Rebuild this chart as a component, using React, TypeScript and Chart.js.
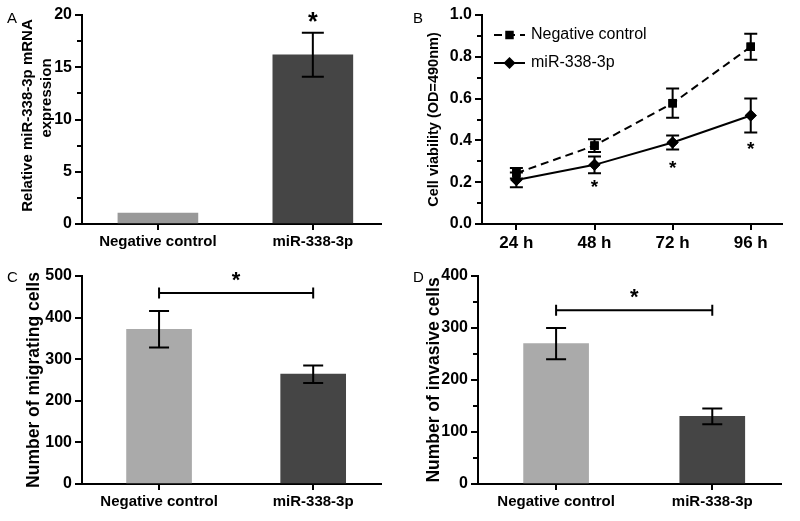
import React, { useEffect, useRef } from "react";
import { Chart, registerables } from "chart.js";

Chart.register(...registerables);

const FONT = "'Liberation Sans', Arial, Helvetica, sans-serif";

// ---------- Panel A ----------
const barCategories = ["Negative control", "miR-338-3p"];
const expressionMeans = [1.05, 16.2];
const expressionErrors = [0, 2.1];

// ---------- Panel B ----------
const timePoints = ["24 h", "48 h", "72 h", "96 h"];
const controlViability = [0.243, 0.375, 0.578, 0.848];
const controlViabilityErr = [0.025, 0.03, 0.07, 0.062];
const mirViability = [0.211, 0.283, 0.39, 0.519];
const mirViabilityErr = [0.035, 0.04, 0.034, 0.081];
const viabilityStarValues = [null, 0.195, 0.283, 0.375];

// ---------- Panel C ----------
const migratingMeans = [372, 264];
const migratingErrors = [44, 21];

// ---------- Panel D ----------
const invasiveMeans = [270, 130];
const invasiveErrors = [30, 15];

const barColorsA = ["#999999", "#454545"];
const barColorsCD = ["#aaaaaa", "#454545"];

type Extras = {
  letter: { text: string; x: number; y: number };
  minorStep?: number;
  majorStep?: number;
  yMax?: number;
  errorBars?: { datasetIndex: number; errors: number[]; cap: number }[];
  stars?: { x: number; y: number; size: number }[];
  bracket?: { x1: number; x2: number; y: number; half: number };
  legend?: { x: number; y: number; dy: number; len: number; textGap: number };
  titleLines?: { text: string; x: number; y: number; size: number }[];
};

function drawStar(ctx: CanvasRenderingContext2D, x: number, y: number, size: number) {
  ctx.save();
  ctx.font = `bold ${size}px ${FONT}`;
  ctx.fillStyle = "#000";
  ctx.textAlign = "center";
  ctx.textBaseline = "alphabetic";
  const m = ctx.measureText("*");
  const asc = m.actualBoundingBoxAscent || size * 0.7;
  const desc = m.actualBoundingBoxDescent || -size * 0.3;
  ctx.fillText("*", x, y + (asc - desc) / 2);
  ctx.restore();
}

function drawMarker(ctx: CanvasRenderingContext2D, style: string, x: number, y: number, r: number) {
  ctx.beginPath();
  if (style === "rect") {
    const s = r * Math.SQRT1_2;
    ctx.rect(x - s, y - s, 2 * s, 2 * s);
  } else {
    ctx.moveTo(x, y - r);
    ctx.lineTo(x + r, y);
    ctx.lineTo(x, y + r);
    ctx.lineTo(x - r, y);
    ctx.closePath();
  }
  ctx.fillStyle = "#000";
  ctx.fill();
}

function makeExtras(ex: Extras) {
  return {
    id: "extras",
    afterDraw(chart: any) {
      const ctx: CanvasRenderingContext2D = chart.ctx;
      const xs = chart.scales.x;
      const ys = chart.scales.y;
      const area = chart.chartArea;
      ctx.save();
      ctx.strokeStyle = "#000";
      ctx.fillStyle = "#000";
      ctx.lineWidth = 2;
      ctx.setLineDash([]);

      // minor ticks
      if (ex.minorStep && ex.majorStep && ex.yMax) {
        const n = Math.round(ex.yMax / ex.minorStep);
        const ratio = Math.round(ex.majorStep / ex.minorStep);
        for (let k = 0; k <= n; k++) {
          if (k % ratio === 0) continue;
          const py = Math.round(ys.getPixelForValue(k * ex.minorStep));
          ctx.beginPath();
          ctx.moveTo(area.left - 5, py);
          ctx.lineTo(area.left, py);
          ctx.stroke();
        }
      }

      // error bars
      (ex.errorBars || []).forEach((eb) => {
        const ds = chart.data.datasets[eb.datasetIndex];
        ds.data.forEach((pt: any, i: number) => {
          const e = eb.errors[i];
          if (!e) return;
          const px = xs.getPixelForValue(pt.x);
          const yt = ys.getPixelForValue(pt.y + e);
          const yb = ys.getPixelForValue(pt.y - e);
          ctx.beginPath();
          ctx.moveTo(px, yt);
          ctx.lineTo(px, yb);
          ctx.moveTo(px - eb.cap / 2, yt);
          ctx.lineTo(px + eb.cap / 2, yt);
          ctx.moveTo(px - eb.cap / 2, yb);
          ctx.lineTo(px + eb.cap / 2, yb);
          ctx.stroke();
        });
      });

      // redraw markers on top for line charts
      if (chart.config.type === "line") {
        chart.data.datasets.forEach((ds: any) => {
          ds.data.forEach((pt: any) => {
            drawMarker(ctx, ds.pointStyle, xs.getPixelForValue(pt.x), ys.getPixelForValue(pt.y), ds.pointRadius);
          });
        });
      }

      // bracket
      if (ex.bracket) {
        const b = ex.bracket;
        const x1 = xs.getPixelForValue(b.x1);
        const x2 = xs.getPixelForValue(b.x2);
        const py = ys.getPixelForValue(b.y);
        ctx.beginPath();
        ctx.moveTo(x1, py);
        ctx.lineTo(x2, py);
        ctx.moveTo(x1, py - b.half);
        ctx.lineTo(x1, py + b.half);
        ctx.moveTo(x2, py - b.half);
        ctx.lineTo(x2, py + b.half);
        ctx.stroke();
      }

      // stars
      (ex.stars || []).forEach((s) => {
        drawStar(ctx, xs.getPixelForValue(s.x), ys.getPixelForValue(s.y), s.size);
      });

      // legend
      if (ex.legend) {
        const L = ex.legend;
        chart.data.datasets.forEach((ds: any, i: number) => {
          const cy = L.y + i * L.dy;
          ctx.beginPath();
          ctx.setLineDash(ds.borderDash || []);
          ctx.moveTo(L.x, cy);
          ctx.lineTo(L.x + L.len, cy);
          ctx.stroke();
          ctx.setLineDash([]);
          drawMarker(ctx, ds.pointStyle, L.x + L.len / 2, cy, ds.pointRadius);
          ctx.font = `16px ${FONT}`;
          ctx.textAlign = "left";
          ctx.textBaseline = "middle";
          ctx.fillStyle = "#000";
          ctx.fillText(ds.label, L.x + L.len + L.textGap, cy);
        });
      }

      // custom title lines
      (ex.titleLines || []).forEach((t) => {
        ctx.save();
        ctx.translate(t.x, t.y);
        ctx.rotate(-Math.PI / 2);
        ctx.font = `bold ${t.size}px ${FONT}`;
        ctx.textAlign = "center";
        ctx.textBaseline = "middle";
        ctx.fillStyle = "#000";
        ctx.fillText(t.text, 0, 0);
        ctx.restore();
      });

      // panel letter
      ctx.font = `15px ${FONT}`;
      ctx.textAlign = "left";
      ctx.textBaseline = "alphabetic";
      ctx.fillStyle = "#000";
      ctx.fillText(ex.letter.text, ex.letter.x, ex.letter.y);
      ctx.restore();
    },
  };
}

const tickFont = (size: number) => ({ family: FONT, size, weight: "bold" as const });

function xAxis(min: number, max: number, labels: string[], xHeight: number, fontSize: number) {
  return {
    type: "linear" as const,
    min,
    max,
    offset: false,
    afterBuildTicks: (s: any) => {
      s.ticks = labels.map((_, i) => ({ value: i + 1 }));
    },
    afterFit: (s: any) => {
      s.height = xHeight;
    },
    ticks: {
      callback: (v: any) => labels[Math.round(Number(v)) - 1] ?? "",
      autoSkip: false,
      maxRotation: 0,
      minRotation: 0,
      padding: 3,
      color: "#000",
      font: tickFont(fontSize),
    },
    grid: { display: true, drawOnChartArea: false, drawTicks: true, tickLength: 6, color: "#000", lineWidth: 2, offset: false },
    border: { display: true, color: "#000", width: 2 },
  };
}

function yAxis(max: number, step: number, yWidth: number, fontSize: number, fixed: number | null, title: any) {
  return {
    type: "linear" as const,
    min: 0,
    max,
    afterFit: (s: any) => {
      s.width = yWidth;
    },
    ticks: {
      stepSize: step,
      padding: 3,
      color: "#000",
      font: tickFont(fontSize),
      callback: (v: any) => (fixed === null ? String(Math.round(Number(v))) : Number(v).toFixed(fixed)),
    },
    grid: { display: true, drawOnChartArea: false, drawTicks: true, tickLength: 7, color: "#000", lineWidth: 2 },
    border: { display: true, color: "#000", width: 2 },
    title,
  };
}

const baseOptions = (pad: { top: number; right: number }) => ({
  responsive: false,
  maintainAspectRatio: false,
  animation: false as const,
  devicePixelRatio: 1,
  layout: { padding: { top: pad.top, right: pad.right, left: 0, bottom: 0 } },
  plugins: { legend: { display: false }, tooltip: { enabled: false }, title: { display: false } },
  events: [] as any[],
});

function configA() {
  return {
    type: "bar" as const,
    data: {
      datasets: [
        {
          label: "expression",
          data: expressionMeans.map((v, i) => ({ x: i + 1, y: v })),
          backgroundColor: barColorsA,
          borderWidth: 0,
          barThickness: 80,
        },
      ],
    },
    options: {
      ...baseOptions({ top: 15, right: 19 }),
      scales: {
        x: xAxis(0.51, 2.44, barCategories, 36, 15),
        y: yAxis(20, 5, 82, 16, null, { display: false }),
      },
    },
    plugins: [
      makeExtras({
        letter: { text: "A", x: 7, y: 23 },
        minorStep: 2.5,
        majorStep: 5,
        yMax: 20,
        errorBars: [{ datasetIndex: 0, errors: expressionErrors, cap: 22 }],
        stars: [{ x: 2, y: 19.84, size: 25 }],
        titleLines: [
          { text: "Relative miR-338-3p mRNA", x: 28, y: 115.5, size: 15 },
          { text: "expression", x: 47, y: 98, size: 15 },
        ],
      }),
    ],
  };
}

function configB() {
  return {
    type: "line" as const,
    data: {
      datasets: [
        {
          label: "Negative control",
          data: controlViability.map((v, i) => ({ x: i + 1, y: v })),
          borderColor: "#000",
          borderWidth: 2,
          borderDash: [8, 5],
          pointStyle: "rect",
          pointRadius: 6,
          pointBackgroundColor: "#000",
          pointBorderWidth: 0,
          fill: false,
          tension: 0,
        },
        {
          label: "miR-338-3p",
          data: mirViability.map((v, i) => ({ x: i + 1, y: v })),
          borderColor: "#000",
          borderWidth: 2,
          pointStyle: "rectRot",
          pointRadius: 6,
          pointBackgroundColor: "#000",
          pointBorderWidth: 0,
          fill: false,
          tension: 0,
        },
      ],
    },
    options: {
      ...baseOptions({ top: 15, right: 18 }),
      scales: {
        x: xAxis(0.56, 4.4, timePoints, 36, 17),
        y: yAxis(1, 0.2, 82, 16, 1, {
          display: true,
          text: "Cell viability (OD=490nm)",
          color: "#000",
          font: { family: FONT, size: 14.5, weight: "bold", lineHeight: 1.2 },
          padding: { top: 25, bottom: 0 },
        }),
      },
    },
    plugins: [
      makeExtras({
        letter: { text: "B", x: 13, y: 23 },
        minorStep: 0.1,
        majorStep: 0.2,
        yMax: 1,
        errorBars: [
          { datasetIndex: 0, errors: controlViabilityErr, cap: 13 },
          { datasetIndex: 1, errors: mirViabilityErr, cap: 13 },
        ],
        stars: viabilityStarValues
          .map((v, i) => (v === null ? null : { x: i + 1, y: v, size: 19 }))
          .filter((s) => s !== null) as { x: number; y: number; size: number }[],
        legend: { x: 94, y: 35, dy: 28, len: 31, textGap: 6 },
      }),
    ],
  };
}

function configBarCD(
  means: number[],
  errors: number[],
  yMax: number,
  yWidth: number,
  pad: { top: number; right: number },
  xMax: number,
  title: string,
  letter: { text: string; x: number; y: number },
  bracketY: number,
  starY: number,
  minor: number | undefined
) {
  return {
    type: "bar" as const,
    data: {
      datasets: [
        {
          label: title,
          data: means.map((v, i) => ({ x: i + 1, y: v })),
          backgroundColor: barColorsCD,
          borderWidth: 0,
          barThickness: 65,
        },
      ],
    },
    options: {
      ...baseOptions(pad),
      scales: {
        x: xAxis(0.5, xMax, barCategories, 37, 15),
        y: yAxis(yMax, 100, yWidth, 16, null, {
          display: true,
          text: title,
          color: "#000",
          font: { family: FONT, size: 17.5, weight: "bold", lineHeight: 1.2 },
          padding: { top: 23.5, bottom: 0 },
        }),
      },
    },
    plugins: [
      makeExtras({
        letter,
        minorStep: minor,
        majorStep: 100,
        yMax,
        errorBars: [{ datasetIndex: 0, errors, cap: 20 }],
        bracket: { x1: 1, x2: 2, y: bracketY, half: 5.5 },
        stars: [{ x: 1.5, y: starY, size: 22 }],
      }),
    ],
  };
}

function Panel({ left, top, width, height, make }: { left: number; top: number; width: number; height: number; make: () => any }) {
  const ref = useRef<HTMLCanvasElement>(null);
  useEffect(() => {
    if (!ref.current) return;
    const chart = new Chart(ref.current, make());
    return () => chart.destroy();
  }, []);
  return (
    <div style={{ position: "absolute", left, top, width, height }}>
      <canvas ref={ref} width={width} height={height} style={{ width, height, display: "block" }} />
    </div>
  );
}

export default function App() {
  return (
    <div style={{ position: "absolute", left: 0, top: 0, width: 800, height: 521, background: "#fff", overflow: "hidden" }}>
      <Panel left={0} top={0} width={400} height={260} make={configA} />
      <Panel left={400} top={0} width={400} height={260} make={configB} />
      <Panel
        left={0}
        top={260}
        width={400}
        height={261}
        make={() =>
          configBarCD(migratingMeans, migratingErrors, 500, 82, { top: 16, right: 19 }, 2.44, "Number of migrating cells", { text: "C", x: 7, y: 22 }, 459, 500, undefined)
        }
      />
      <Panel
        left={400}
        top={260}
        width={400}
        height={261}
        make={() =>
          configBarCD(invasiveMeans, invasiveErrors, 400, 78, { top: 16, right: 19 }, 2.44, "Number of invasive cells", { text: "D", x: 13, y: 22 }, 334, 367, 50)
        }
      />
    </div>
  );
}
